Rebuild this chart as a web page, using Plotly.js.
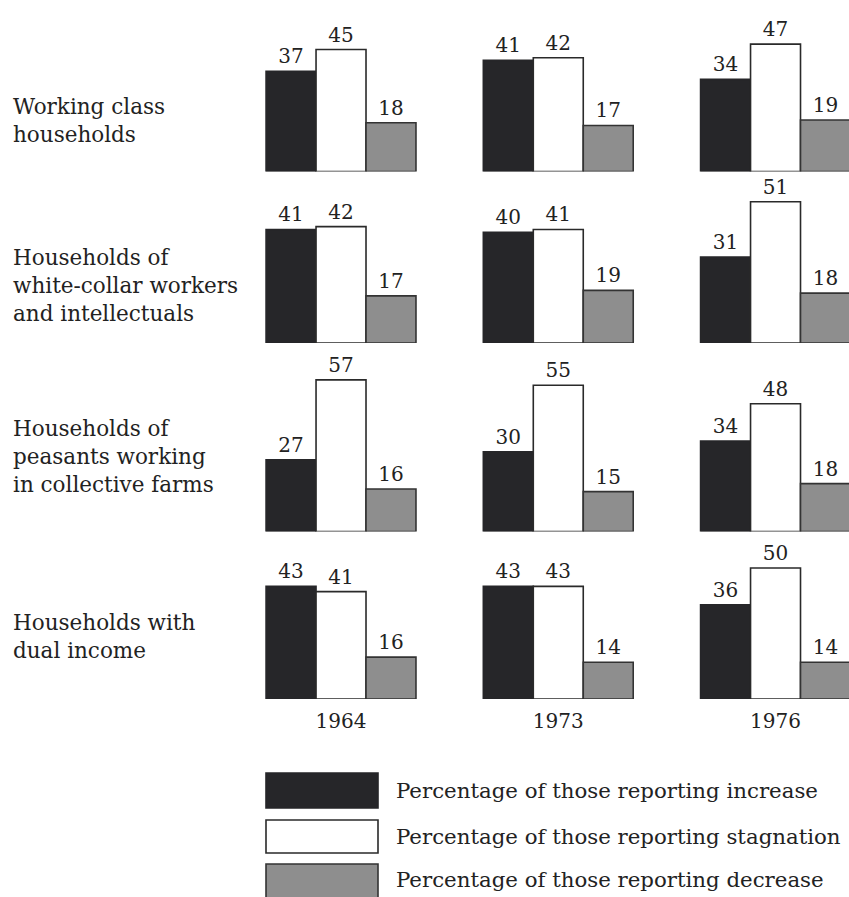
<!DOCTYPE html>
<html>
<head>
<meta charset="utf-8">
<script src="https://cdn.plot.ly/plotly-3.0.1.min.js"></script>
<style>html,body{margin:0;padding:0;background:#fff;}#chart{width:849px;height:897px;}</style>
</head>
<body>
<div id="chart"></div>
<script>
// ---- data ----
var years = ['1964', '1973', '1976'];
var groups = [
  'Working class<br>households',
  'Households of<br>white-collar workers<br>and intellectuals',
  'Households of<br>peasants working<br>in collective farms',
  'Households with<br>dual income'
];
// one row per household group, one value per year
var increase   = [[37, 41, 34], [41, 40, 31], [27, 30, 34], [43, 43, 36]];
var stagnation = [[45, 42, 47], [42, 41, 51], [57, 55, 48], [41, 43, 50]];
var decrease   = [[18, 17, 19], [17, 19, 18], [16, 15, 18], [16, 14, 14]];
var seriesNames = [
  'Percentage of those reporting increase',
  'Percentage of those reporting stagnation',
  'Percentage of those reporting decrease'
];

// ---- styling ----
var W = 849, H = 897;
var FONT = 'DejaVu Serif, Liberation Serif, serif';
var INK = '#222222';
var fills = ['#262629', '#ffffff', '#8e8e8e'];
var lines = ['#262629', '#2a2a2a', '#333333'];
var baselines = [171.5, 343, 531.5, 699];   // px from top
var pxPerUnit = [2.71, 2.77, 2.66, 2.62];
var rowH = [160, 160, 176, 160];
var labelY = [120, 285, 456, 636];

function py(p) { return 1 - p / H; }
function px(p) { return p / W; }

var seriesData = [increase, stagnation, decrease];
var traces = [];
for (var r = 0; r < groups.length; r++) {
  var ya = r === 0 ? 'y' : 'y' + (r + 1);
  for (var s = 0; s < 3; s++) {
    traces.push({
      type: 'bar', x: years, y: seriesData[s][r], xaxis: 'x', yaxis: ya,
      name: seriesNames[s], showlegend: false,
      marker: { color: fills[s], line: { color: lines[s], width: 1.6 } },
      text: seriesData[s][r].map(String), textposition: 'outside',
      textfont: { family: FONT, size: 20, color: INK },
      constraintext: 'none', cliponaxis: false, hoverinfo: 'skip'
    });
  }
}

var x0 = 232.4, slot = 217.25;
var layout = {
  width: W, height: H, margin: { l: 0, r: 0, t: 0, b: 0 },
  paper_bgcolor: '#fff', plot_bgcolor: '#fff',
  barmode: 'group', bargap: 0.31, bargroupgap: 0,
  showlegend: false,
  font: { family: FONT, color: INK },
  xaxis: {
    type: 'category', domain: [px(x0), 1], range: [-0.5, -0.5 + (W - x0) / slot],
    anchor: 'y4', showgrid: false, zeroline: false, showline: false, ticks: '',
    tickfont: { family: FONT, size: 20, color: INK }, ticklabelstandoff: 8, fixedrange: true
  },
  annotations: [], shapes: []
};
for (var r = 0; r < groups.length; r++) {
  var key = r === 0 ? 'yaxis' : 'yaxis' + (r + 1);
  layout[key] = {
    domain: [py(baselines[r]), py(baselines[r] - rowH[r])],
    range: [0, rowH[r] / pxPerUnit[r]], anchor: 'x',
    showgrid: false, zeroline: false, showline: false, showticklabels: false, ticks: '', fixedrange: true
  };
  layout.annotations.push({
    xref: 'paper', yref: 'paper', x: px(11), y: py(labelY[r]),
    xanchor: 'left', yanchor: 'middle', align: 'left', showarrow: false,
    text: groups[r], font: { family: FONT, size: 21.5, color: INK }
  });
}
// legend built from the series
var legTop = [773, 820, 864], legBot = [808, 853, 899];
for (var s = 0; s < 3; s++) {
  layout.shapes.push({
    type: 'rect', xref: 'paper', yref: 'paper',
    x0: px(266), x1: px(378), y0: py(legBot[s]), y1: py(legTop[s]),
    fillcolor: fills[s], line: { color: lines[s], width: 1.6 }
  });
  layout.annotations.push({
    xref: 'paper', yref: 'paper', x: px(394), y: py((legTop[s] + Math.min(legBot[s], 897)) / 2 + (s === 2 ? -1 : 0)),
    xanchor: 'left', yanchor: 'middle', showarrow: false,
    text: seriesNames[s], font: { family: FONT, size: 21.3, color: INK }
  });
}
Plotly.newPlot('chart', traces, layout, { staticPlot: true, displayModeBar: false });
</script>
</body>
</html>
